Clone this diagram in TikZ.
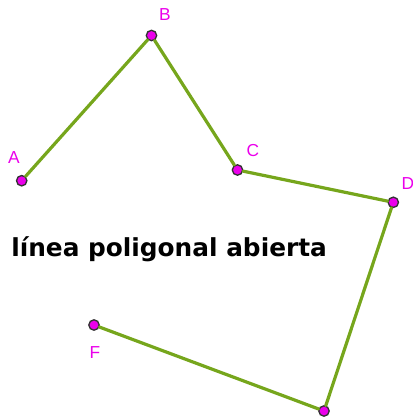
\documentclass[tikz,border=0pt]{standalone}
\usepackage{fontspec}
\setmainfont{DejaVu Sans}
\newfontfamily\lblfont{Liberation Sans}
\usetikzlibrary{positioning}
\definecolor{ggbgreen}{RGB}{118,166,28}
\definecolor{ggbpink}{RGB}{235,0,235}
\tikzset{
    vertex/.style={circle, draw=black!80, fill=ggbpink, line width=1pt, inner sep=0pt, minimum size=7.8pt},
    lbl/.style={text=ggbpink, font=\lblfont\fontsize{13}{14}\selectfont, inner sep=0pt},
    side/.style={draw=ggbgreen, line width=2.4pt, line cap=round}
}
\begin{document}
\begin{tikzpicture}[x=0.75pt, y=-0.75pt]
    \useasboundingbox (0,0) rectangle (413,419);
    % vertices
    \node (A) [vertex] at (21.7,180.7) {};
    \node (B) [vertex] at (151.5,35.5) {};
    \node (C) [vertex] at (237.5,170) {};
    \node (D) [vertex] at (393.3,202.3) {};
    \node (E) [vertex] at (324,411) {};
    \node (F) [vertex] at (94,325) {};

    % sides
    \draw [side] (A) -- (B);
    \draw [side] (B) -- (C);
    \draw [side] (C) -- (D);
    \draw [side] (D) -- (E);
    \draw [side] (E) -- (F);

    % labels
    \node (labA) [lbl] at (14,158) {A};
    \node (labB) [lbl] at (165,15) {B};
    \node (labC) [lbl] at (253,151) {C};
    \node (labD) [lbl] at (408,184) {D};
    \node (labF) [lbl] at (95,353) {F};

    \node (title) [font=\bfseries\fontsize{18.6}{20}\selectfont, inner sep=0pt, anchor=west] at (11,249) {línea poligonal abierta};
\end{tikzpicture}
\end{document}
